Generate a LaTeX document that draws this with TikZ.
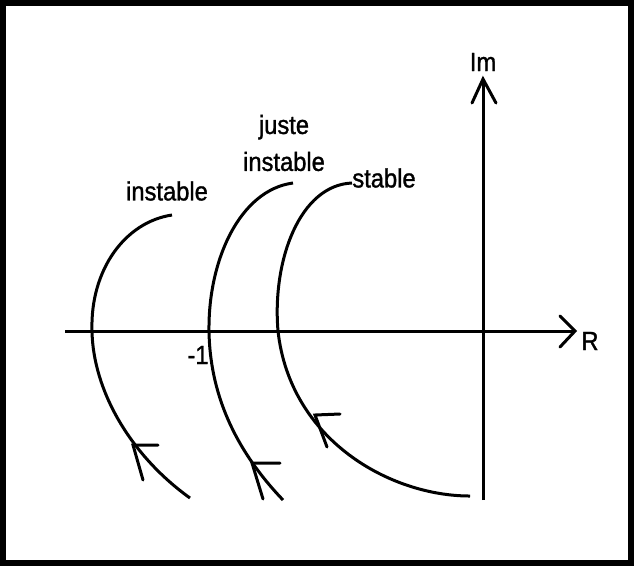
\documentclass[tikz,border=0pt]{standalone}
\usepackage{fontspec}
\newfontfamily\nyqfont[FakeStretch=0.9, FakeBold=1.2]{Liberation Sans}
\usetikzlibrary{positioning}

\begin{document}
\begin{tikzpicture}[x=0.02cm, y=-0.02cm,
  axis/.style={line width=0.06cm, black},
  locus/.style={line width=0.06cm, black},
  arm/.style={line width=0.06cm, black, line cap=round},
  lbl/.style={font=\nyqfont\fontsize{15}{21}\selectfont, inner sep=0pt, align=center}
]
\useasboundingbox (0,0) rectangle (634,566);
\draw[line width=0.13cm] (3,3) rectangle (631,563);

% axes
\coordinate (o) at (483,331);
\coordinate (xl) at (65,331);
\coordinate (xr) at (575,331);
\coordinate (yb) at (483,500);
\coordinate (yt) at (483,79);
\draw[axis] (xl) -- (xr);
\draw[axis] (yb) -- (yt);
\draw[arm] (560,316) -- (xr) -- (560,347);
\draw[arm] (472,103) -- (yt) -- (496,103);
\node[lbl] (im) at (483,62) {Im};
\node[lbl] (re) at (590,341) {R};

% curves
\coordinate (a0) at (172,215);
\coordinate (a1) at (92,331);
\coordinate (a2) at (190,498);
\draw[locus] (a0) .. controls (125,222) and (90,270) .. (a1)
                  .. controls (93,390) and (130,455) .. (a2);
\coordinate (b0) at (293,183);
\coordinate (b1) at (209,331);
\coordinate (b2) at (283,500);
\draw[locus] (b0) .. controls (240,190) and (208,260) .. (b1)
                  .. controls (210,400) and (240,455) .. (b2);
\coordinate (c0) at (352,183);
\coordinate (c1) at (278,331);
\coordinate (c2) at (470,496);
\draw[locus] (c0) .. controls (300,185) and (272,260) .. (c1)
                  .. controls (290,440) and (390,496) .. (c2);

% arrowheads
\coordinate (ta) at (133,445);
\draw[arm] (158,445) -- (ta) -- (143,480);
\coordinate (tb) at (252,463);
\draw[arm] (280,463) -- (tb) -- (263,499);
\coordinate (tc) at (315,415);
\draw[arm] (340,414) -- (tc) -- (327,447);

% labels
\node[lbl] (ins) at (167,191) {instable};
\node[lbl] (jus) at (284,143) {juste\\instable};
\node[lbl] (sta) at (384,178) {stable};
\node[lbl] (m1) at (198,355) {-1};
\end{tikzpicture}
\end{document}
